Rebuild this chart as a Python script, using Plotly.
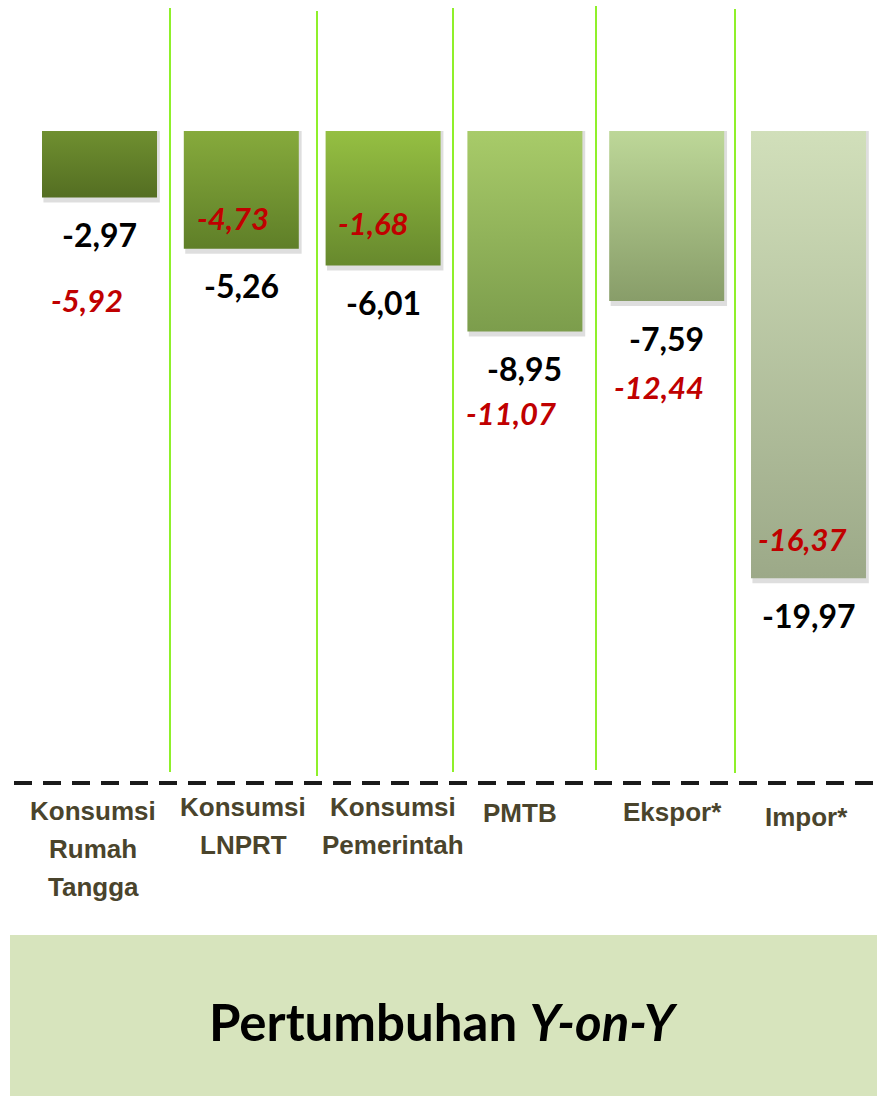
import plotly.graph_objects as go

# ---------------- data ----------------
categories = ["Konsumsi<br>Rumah<br>Tangga", "Konsumsi<br>LNPRT", "Konsumsi<br>Pemerintah",
              "PMTB", "Ekspor*", "Impor*"]
growth_current = [-2.97, -5.26, -6.01, -8.95, -7.59, -19.97]     # black labels / bars
growth_previous = [-5.92, -4.73, -1.68, -11.07, -12.44, -16.37]  # red italic labels
title_text = "<b>Pertumbuhan <i>Y-on-Y</i></b>"

# ---------------- styles / layout helpers ----------------
top_colors = ["#6f8f30", "#86aa3c", "#95bf42", "#a8cb69", "#bdd798", "#d1dfba"]
bottom_colors = ["#546e22", "#5f7f28", "#67892d", "#7c9d4c", "#889d69", "#9ca988"]

W, H = 877, 1096
PX_PER_UNIT = 22.4
ZERO_PX = 131
CAT_STEP = 141.8
FIRST_CENTER = 99.5
BAR_HALF = 57.5 / CAT_STEP

x_range = [-FIRST_CENTER / CAT_STEP, (W - FIRST_CENTER) / CAT_STEP]
y_range = [(ZERO_PX - H) / PX_PER_UNIT, ZERO_PX / PX_PER_UNIT]


def py_to_y(py):
    return (ZERO_PX - py) / PX_PER_UNIT


def px_to_x(px):
    return (px - FIRST_CENTER) / CAT_STEP


def py_to_paper(py):
    return 1 - py / H


red_label_py = [300, 218, 223, 413, 387, 539]
red_label_dx = [-13, -8, -10, -14, -8, -6]
cat_label_px = [93, 243, 393, 520, 672, 806]
cat_label_first_py = [811, 807, 807, 813, 812, 817]
CAT_LINE_STEP = 38
separator_px = [170, 317, 453, 596, 735]
separator_top_py = [8, 11, 8, 6, 9]
separator_bot_py = [772, 776, 772, 770, 773]


def fmt(v):
    return f"{v:.2f}".replace(".", ",")


fig = go.Figure()

for i, v in enumerate(growth_current):
    x0, x1 = i - BAR_HALF, i + BAR_HALF
    # soft shadow
    sh = 5 / PX_PER_UNIT
    fig.add_trace(go.Scatter(
        x=[x0 + 0.01, x1 + 0.02, x1 + 0.02, x0 + 0.01, x0 + 0.01],
        y=[0, 0, v - sh, v - sh, 0],
        fill="toself", fillcolor="rgba(0,0,0,0.13)", mode="none",
        hoverinfo="skip", showlegend=False))
    fig.add_trace(go.Scatter(
        x=[x0, x1, x1, x0, x0],
        y=[0, 0, v, v, 0],
        fill="toself", mode="none",
        fillgradient=dict(type="vertical", start=v, stop=0,
                          colorscale=[[0, bottom_colors[i]], [1, top_colors[i]]]),
        hoverinfo="skip", showlegend=False))

shapes = []
for px, t, b in zip(separator_px, separator_top_py, separator_bot_py):
    shapes.append(dict(type="line", xref="x", yref="y",
                       x0=px_to_x(px), x1=px_to_x(px), y0=py_to_y(t), y1=py_to_y(b),
                       line=dict(color="#8ff02a", width=2)))
# dashed baseline
shapes.append(dict(type="line", xref="paper", yref="paper",
                   x0=14 / W, x1=1, y0=py_to_paper(783), y1=py_to_paper(783),
                   line=dict(color="#1a1a1a", width=4, dash="18px,11px")))
# bottom title box
shapes.append(dict(type="rect", xref="paper", yref="paper",
                   x0=10 / W, x1=1, y0=0, y1=py_to_paper(935),
                   fillcolor="#d7e4bd", line=dict(width=0), layer="below"))

annotations = []
for i, v in enumerate(growth_current):
    annotations.append(dict(x=i, y=v, xref="x", yref="y", yshift=-37,
                            xanchor="center", yanchor="middle",
                            text=f"<b>{fmt(v)}</b>", showarrow=False,
                            font=dict(family="Lato, Open Sans, sans-serif", size=32, color="#000000")))
for i, v in enumerate(growth_previous):
    annotations.append(dict(x=i, y=py_to_y(red_label_py[i]), xref="x", yref="y",
                            xshift=red_label_dx[i], xanchor="center", yanchor="middle",
                            text=f"<b><i>{fmt(v)}</i></b>", showarrow=False,
                            font=dict(family="Lato, Open Sans, sans-serif", size=31, color="#c00000")))
for i, c in enumerate(categories):
    for k, line in enumerate(c.split("<br>")):
        annotations.append(dict(x=px_to_x(cat_label_px[i]),
                                y=py_to_paper(cat_label_first_py[i] + k * CAT_LINE_STEP),
                                xref="x", yref="paper", xanchor="center", yanchor="middle",
                                text=f"<b>{line}</b>", showarrow=False,
                                font=dict(family="Liberation Sans, Arial, sans-serif",
                                          size=26, color="#4a442c")))
annotations.append(dict(x=(10 / W + 1) / 2, y=py_to_paper(1021), xref="paper", yref="paper",
                        xanchor="center", yanchor="middle",
                        text=title_text, showarrow=False,
                        font=dict(family="Lato, Open Sans, sans-serif", size=51, color="#000000")))

fig.update_layout(
    width=W, height=H,
    margin=dict(l=0, r=0, t=0, b=0),
    paper_bgcolor="#ffffff", plot_bgcolor="#ffffff",
    xaxis=dict(range=x_range, visible=False, fixedrange=True),
    yaxis=dict(range=y_range, visible=False, fixedrange=True),
    shapes=shapes, annotations=annotations,
    showlegend=False,
)

fig.write_html("out.html", config={"displayModeBar": False},
               post_script="document.body.style.margin='0';")
